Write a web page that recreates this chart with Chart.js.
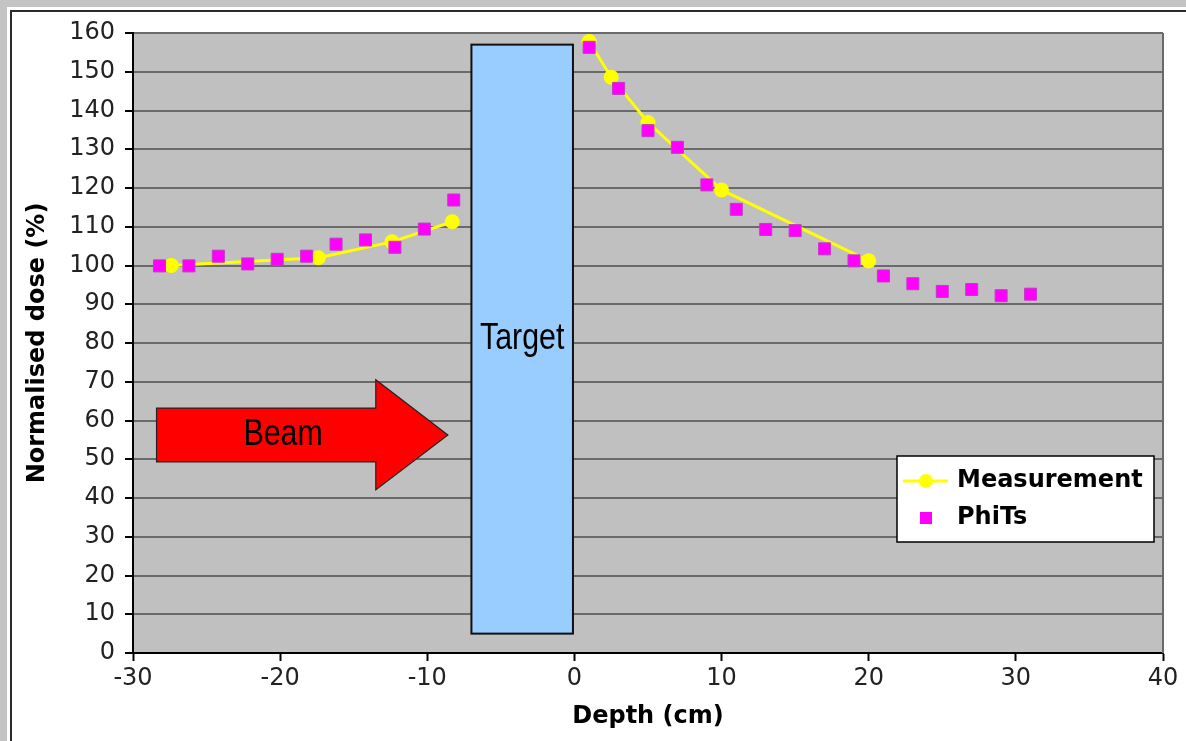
<!DOCTYPE html>
<html>
<head>
<meta charset="utf-8">
<title>Normalised dose vs depth</title>
<script src="https://cdn.jsdelivr.net/npm/chart.js@4.4.1/dist/chart.umd.min.js"></script>
<style>
  html, body { margin: 0; padding: 0; background: #fff; overflow: hidden; }
  .band { position: absolute; background: #c4c4c4; }
  #bandTop { left: 0; top: 0; width: 100%; height: 7px; }
  #bandLeft { left: 0; top: 0; width: 7px; height: 100%; }
  #frameLine { position: absolute; left: 10px; top: 10px; width: 2000px; height: 2000px;
               border-left: 2px solid #2b2b2b; border-top: 2px solid #2b2b2b; }
  #wrap { position: absolute; left: 0; top: 0; width: 1186px; height: 741px; }
</style>
</head>
<body>
<div class="band" id="bandTop"></div>
<div class="band" id="bandLeft"></div>
<div id="frameLine"></div>
<div id="wrap"><canvas id="doseChart"></canvas></div>
<script>
// valores
const measurementDepth = [-27.4, -17.4, -12.4, -8.3, -4, 1, 2.5, 5, 10, 20];
const measurementDose  = [100.0, 102.0, 106.1, 111.3, null, 157.8, 148.6, 136.9, 119.5, 101.2]; // null = dentro del target, sin medida

const phitsDepth = [-28.2, -26.2, -24.2, -22.2, -20.2, -18.2, -16.2, -14.2, -12.2, -10.2, -8.2,
                    1, 3, 5, 7, 9, 11, 13, 15, 17, 19, 21, 23, 25, 27, 29, 31];
const phitsDose  = [99.9, 99.9, 102.4, 100.4, 101.6, 102.4, 105.5, 106.6, 104.7, 109.4, 116.9,
                    156.3, 145.7, 134.8, 130.5, 120.8, 114.5, 109.3, 109.0, 104.3, 101.2, 97.3, 95.3, 93.3, 93.8, 92.2, 92.6];

const depthTicks = [-30, -20, -10, 0, 10, 20, 30, 40];
const doseTicks  = [0, 10, 20, 30, 40, 50, 60, 70, 80, 90, 100, 110, 120, 130, 140, 150, 160];

// anotaciones (en unidades de datos)
const targetBox = { xMin: -7, xMax: -0.1, yMin: 5, yMax: 157, labelY: 81 };
const beamArrow = { x0: -28.4, xNeck: -13.5, xTip: -8.6, bodyTop: 63.2, bodyBottom: 49.3, headTop: 70.5, headBottom: 42.1, labelX: -19.8 };

// texto estrecho tipo "Arial Narrow": Liberation Sans comprimida en x
function narrowText(ctx, text, cx, cy) {
    ctx.save();
    ctx.translate(cx, cy);
    ctx.scale(0.82, 1);
    ctx.font = '37px "Liberation Sans", Arial, sans-serif';
    ctx.textAlign = 'center';
    ctx.textBaseline = 'middle';
    ctx.fillStyle = '#000';
    ctx.fillText(text, 0, 0);
    ctx.restore();
}

const shapesPlugin = {
    id: 'shapes',
    beforeDraw(chart) {
        const { ctx, chartArea: a } = chart;
        ctx.save();
        ctx.fillStyle = '#c0c0c0';
        ctx.fillRect(a.left, a.top, a.right - a.left, a.bottom - a.top);
        ctx.restore();
    },
    beforeDatasetsDraw(chart) {
        const { ctx, chartArea: a, scales: { x, y } } = chart;
        ctx.save();

        // borde derecho del area
        ctx.strokeStyle = '#6a6a6a';
        ctx.lineWidth = 2;
        ctx.beginPath();
        ctx.moveTo(a.right, a.top);
        ctx.lineTo(a.right, a.bottom);
        ctx.stroke();

        // Target
        const tx0 = x.getPixelForValue(targetBox.xMin), tx1 = x.getPixelForValue(targetBox.xMax);
        const ty0 = y.getPixelForValue(targetBox.yMax), ty1 = y.getPixelForValue(targetBox.yMin);
        ctx.fillStyle = '#99ccff';
        ctx.fillRect(tx0, ty0, tx1 - tx0, ty1 - ty0);
        ctx.strokeStyle = '#111';
        ctx.lineWidth = 2;
        ctx.strokeRect(tx0, ty0, tx1 - tx0, ty1 - ty0);
        narrowText(ctx, 'Target', (tx0 + tx1) / 2, y.getPixelForValue(targetBox.labelY));

        // Beam
        const b = beamArrow;
        const px = v => x.getPixelForValue(v), py = v => y.getPixelForValue(v);
        const midY = (py(b.bodyTop) + py(b.bodyBottom)) / 2;
        ctx.beginPath();
        ctx.moveTo(px(b.x0), py(b.bodyTop));
        ctx.lineTo(px(b.xNeck), py(b.bodyTop));
        ctx.lineTo(px(b.xNeck), py(b.headTop));
        ctx.lineTo(px(b.xTip), midY);
        ctx.lineTo(px(b.xNeck), py(b.headBottom));
        ctx.lineTo(px(b.xNeck), py(b.bodyBottom));
        ctx.lineTo(px(b.x0), py(b.bodyBottom));
        ctx.closePath();
        ctx.fillStyle = '#ff0000';
        ctx.fill();
        ctx.strokeStyle = '#222';
        ctx.lineWidth = 1.2;
        ctx.stroke();
        narrowText(ctx, 'Beam', px(b.labelX), midY);

        ctx.restore();
    },
    afterDraw(chart) {
        // leyenda dentro del area
        const { ctx, chartArea: a } = chart;
        const bx = a.right - 266, by = a.bottom - 197, bw = 257, bh = 86;
        ctx.save();
        ctx.fillStyle = '#fff';
        ctx.fillRect(bx, by, bw, bh);
        ctx.strokeStyle = '#000';
        ctx.lineWidth = 1.5;
        ctx.strokeRect(bx, by, bw, bh);

        const r1 = by + 25, r2 = by + 62, mx = bx + 29;
        ctx.strokeStyle = '#ffff00';
        ctx.lineWidth = 3;
        ctx.beginPath();
        ctx.moveTo(bx + 6, r1);
        ctx.lineTo(bx + 51, r1);
        ctx.stroke();
        ctx.fillStyle = '#ffff00';
        ctx.beginPath();
        ctx.arc(mx, r1, 7, 0, Math.PI * 2);
        ctx.fill();
        ctx.fillStyle = '#ff00ff';
        ctx.fillRect(mx - 6, r2 - 6, 12, 12);

        ctx.fillStyle = '#000';
        ctx.font = 'bold 24px "DejaVu Sans", sans-serif';
        ctx.textAlign = 'left';
        ctx.textBaseline = 'middle';
        ctx.fillText('Measurement', bx + 60, r1);
        ctx.fillText('PhiTs', bx + 60, r2);
        ctx.restore();
    }
};

Chart.defaults.font.family = "'DejaVu Sans', sans-serif";
Chart.defaults.color = '#222';

new Chart(document.getElementById('doseChart'), {
    type: 'line',
    data: {
        datasets: [
            {
                label: 'Measurement',
                data: measurementDepth.map((d, i) => ({ x: d, y: measurementDose[i] })),
                borderColor: '#ffff00',
                backgroundColor: '#ffff00',
                borderWidth: 3,
                pointStyle: 'circle',
                pointRadius: 7.5,
                pointBorderWidth: 0,
                spanGaps: false,
                order: 1
            },
            {
                label: 'PhiTs',
                data: phitsDepth.map((d, i) => ({ x: d, y: phitsDose[i] })),
                showLine: false,
                backgroundColor: '#ff00ff',
                borderColor: '#c03cc0',
                pointStyle: 'rect',
                pointRadius: 8.5,
                pointBorderWidth: 1,
                order: 0
            }
        ]
    },
    options: {
        responsive: true,
        maintainAspectRatio: false,
        animation: false,
        layout: { padding: { left: 0, top: 33, right: 23, bottom: 0 } },
        plugins: {
            legend: { display: false },
            tooltip: { enabled: false }
        },
        scales: {
            x: {
                type: 'linear',
                min: -30,
                max: 40,
                afterBuildTicks: s => { s.ticks = depthTicks.map(v => ({ value: v })); },
                afterFit: s => { s.height = 88; },
                ticks: { font: { size: 24 }, padding: 3, maxRotation: 0 },
                grid: { drawOnChartArea: false, drawTicks: true, tickLength: 8, tickColor: '#000', tickWidth: 2 },
                border: { color: '#000', width: 2 },
                title: {
                    display: true,
                    text: 'Depth (cm)',
                    color: '#000',
                    font: { size: 24, weight: 'bold' },
                    padding: { top: 0, bottom: 10 }
                }
            },
            y: {
                min: 0,
                max: 160,
                afterBuildTicks: s => { s.ticks = doseTicks.map(v => ({ value: v })); },
                afterFit: s => { s.width = 133; },
                ticks: { font: { size: 24 }, padding: 10 },
                grid: { color: '#6a6a6a', lineWidth: 2, tickLength: 8, tickColor: '#000', tickWidth: 2 },
                border: { color: '#000', width: 2 },
                title: {
                    display: true,
                    text: 'Normalised dose (%)',
                    color: '#000',
                    font: { size: 24, weight: 'bold' },
                    padding: { top: 23, bottom: 0 }
                }
            }
        }
    },
    plugins: [shapesPlugin]
});
</script>
</body>
</html>
